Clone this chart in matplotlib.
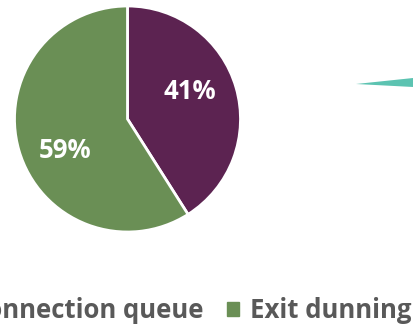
import numpy as np
import matplotlib
matplotlib.use("Agg")
import matplotlib.pyplot as plt
import matplotlib.patches as mpatches

# data
labels = ["Reconnection queue", "Exit dunning"]
shares = [41, 59]
colors = ["#5c2351", "#6a8f55"]

# neighbouring chart, only a thin slice of it is in view
other_shares = [2.5, 97.5]
other_colors = ["#5cc3b1", "none"]

W, H = 414, 327
fig = plt.figure(figsize=(W / 100, H / 100), dpi=100)

def px_axes(cx, cy, r):
    # axes square around a centre given in pixels from the top-left corner
    return fig.add_axes([(cx - r) / W, (H - cy - r) / H, 2 * r / W, 2 * r / H])

# main pie
ax = px_axes(127.5, 119, 113)
wedges, texts, autotexts = ax.pie(
    shares, colors=colors, startangle=90, counterclock=False,
    autopct=lambda p: "{:d}%".format(int(round(p))), pctdistance=0.61,
    wedgeprops=dict(edgecolor="white", linewidth=2.0),
    textprops=dict(color="white", fontsize=18.5, fontweight="bold",
                   family="Open Sans"))
ax.set_xlim(-1, 1)
ax.set_ylim(-1, 1)

# labels sit a little counter-clockwise of the slice middle, like the original
for w, t in zip(wedges, autotexts):
    ang = np.deg2rad((w.theta1 + w.theta2) / 2 + 9)
    t.set_position((0.61 * np.cos(ang), 0.61 * np.sin(ang) - 0.02))

# second chart, cut off at the right edge
ax2 = px_axes(356, 84, 120)
ax2.pie(other_shares, colors=other_colors, startangle=-3, counterclock=True,
        wedgeprops=dict(linewidth=0))
ax2.set_xlim(-1, 1)
ax2.set_ylim(-1, 1)

# legend (the first entry runs off the left edge, as in the original crop)
handles = [mpatches.Patch(color=c, label=l) for c, l in zip(colors, labels)]
fig.legend(handles=handles, loc="center right", ncol=2, frameon=False,
           bbox_to_anchor=(412 / W, 1 - 311 / H), borderpad=0, borderaxespad=0,
           handlelength=0.46, handleheight=0.46, handletextpad=0.46,
           columnspacing=0.9,
           prop=dict(family="Open Sans", weight="bold", size=18.5),
           labelcolor="#595959")

fig.savefig("out.png", dpi=100)
